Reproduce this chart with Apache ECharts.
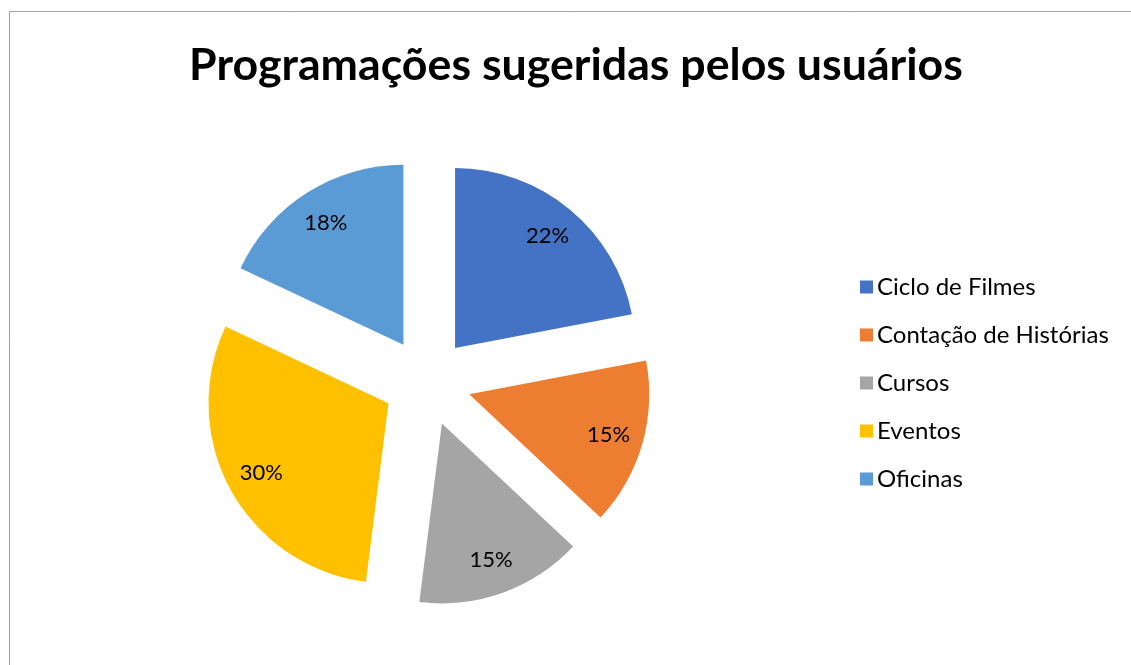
<!DOCTYPE html>
<html>
<head>
<meta charset="utf-8">
<script src="https://cdn.jsdelivr.net/npm/echarts@6/dist/echarts.min.js"></script>
<style>
  html, body { margin: 0; padding: 0; background: #fff; }
  #main { width: 1131px; height: 665px; }
</style>
</head>
<body>
<div id="main"></div>
<script>
var categories = ['Ciclo de Filmes', 'Contação de Histórias', 'Cursos', 'Eventos', 'Oficinas'];
var values = [22, 15, 15, 30, 18];
var colors = ['#4472C4', '#ED7D31', '#A5A5A5', '#FFC000', '#5B9BD5'];

var chart = echarts.init(document.getElementById('main'));

var pieData = categories.map(function (name, i) {
    return { name: name, value: values[i], selected: true, itemStyle: { color: colors[i] } };
});
var labelData = categories.map(function (name, i) {
    return { name: name, value: values[i], selected: true };
});

var option = {
    animation: false,
    title: {
        text: 'Programações sugeridas pelos usuários',
        left: 571,
        textAlign: 'center',
        top: 38,
        textStyle: { fontFamily: 'Lato', fontWeight: 'bold', fontSize: 44.7, color: '#000' }
    },
    legend: {
        orient: 'vertical',
        left: 855,
        top: 270,
        itemWidth: 13,
        itemHeight: 13,
        itemGap: 24,
        icon: 'rect',
        data: categories,
        textStyle: { fontFamily: 'Lato', fontSize: 24, lineHeight: 24, color: '#000', padding: [0, 0, 0, -1] }
    },
    graphic: [{
        type: 'rect',
        shape: { x: 9.5, y: 11.5, width: 1200, height: 700 },
        style: { fill: 'none', stroke: '#a0a0a0', lineWidth: 1 },
        silent: true
    }],
    series: [
        {
            name: 'pie',
            type: 'pie',
            center: [427, 382],
            radius: [0, 180],
            startAngle: 90,
            clockwise: true,
            selectedMode: 'multiple',
            selectedOffset: 44,
            label: { show: false },
            labelLine: { show: false },
            emphasis: { disabled: true },
            data: pieData
        },
        {
            name: 'labels',
            type: 'pie',
            center: [427, 382],
            radius: [104, 180],
            startAngle: 90,
            clockwise: true,
            selectedMode: 'multiple',
            selectedOffset: 44,
            silent: true,
            itemStyle: { color: 'rgba(0,0,0,0)' },
            label: {
                show: true,
                position: 'inside',
                formatter: '{c}%',
                fontFamily: 'Lato',
                fontSize: 22,
                color: '#000'
            },
            labelLine: { show: false },
            emphasis: { disabled: true },
            data: labelData
        }
    ]
};

chart.setOption(option);
</script>
</body>
</html>
